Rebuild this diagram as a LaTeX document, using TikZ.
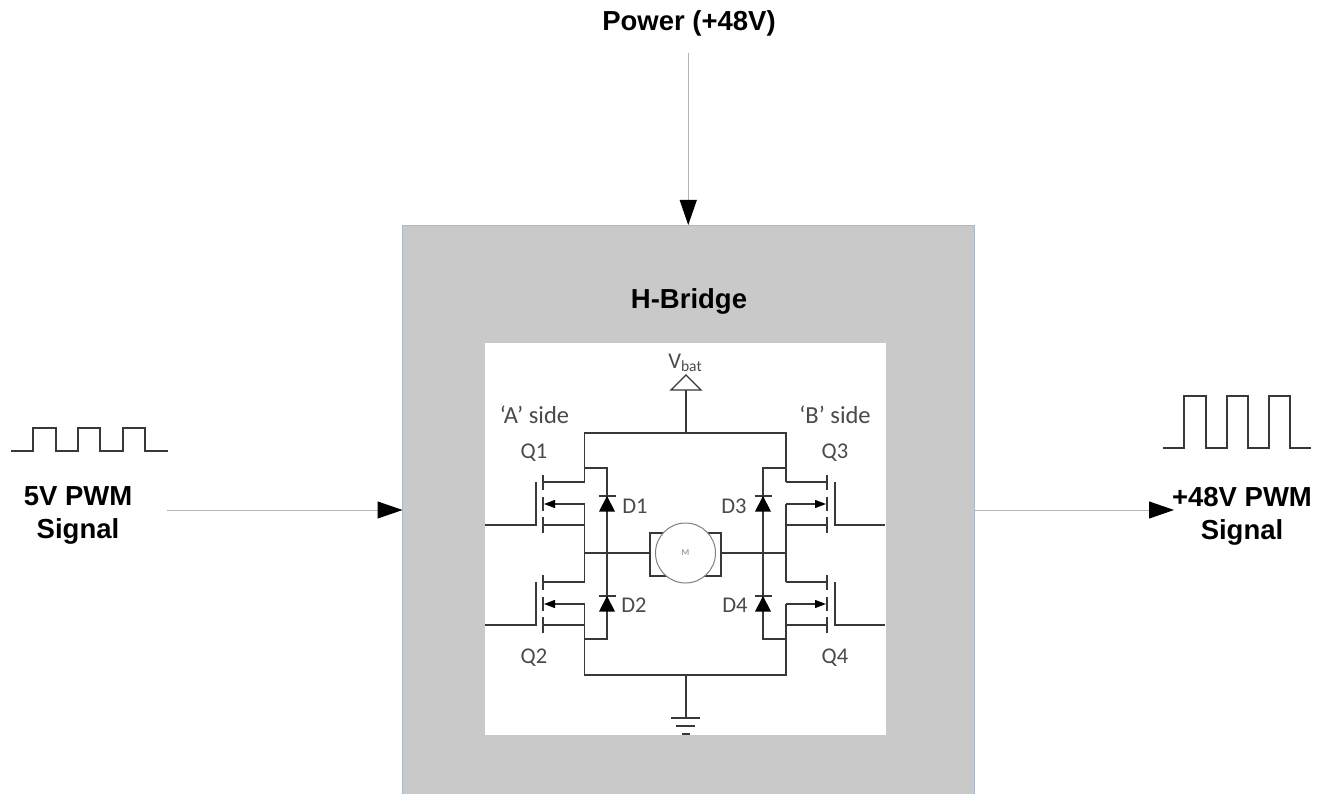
\documentclass[tikz,border=0pt]{standalone}
\usepackage{fontspec}
\setmainfont{Liberation Sans}
\newfontfamily\schemfont{Carlito}
\usetikzlibrary{arrows.meta}
\definecolor{boxgrey}{HTML}{C9C9C9}
\definecolor{boxedge}{HTML}{A9B8CC}
\definecolor{wire}{HTML}{383838}
\definecolor{schemtext}{HTML}{4A4A4A}
\definecolor{shaft}{HTML}{B5B5B5}
\tikzset{
  x=1pt,y=-1pt,
  biglabel/.style={font=\fontsize{27.5}{32.5}\selectfont\bfseries,text=black,align=center,inner sep=0pt},
  schemlabel/.style={font=\schemfont\fontsize{22.5}{26}\selectfont,text=schemtext,inner sep=0pt},
  sidelabel/.style={schemlabel,font=\schemfont\fontsize{24.5}{28}\selectfont},
  wireline/.style={draw=wire,line width=1.25pt,line join=miter},
  signal/.style={draw=wire,line width=1.1pt},
  feed/.style={draw=shaft,line width=1pt,-{Triangle[length=25pt,width=17pt,black]}},
  tip/.style={-{Triangle[length=11pt,width=8pt,black]}},
}
\begin{document}
\begin{tikzpicture}
\useasboundingbox (0,0) rectangle (1318,794);
\clip (0,0) rectangle (1318,794);
\fill[white] (0,0) rectangle (1318,794);
% main blocks
\node[draw=boxedge,line width=0.8pt,fill=boxgrey,minimum width=571.5pt,minimum height=600pt,inner sep=0pt,outer sep=0pt] (hbridge) at (688.25,525) {};
\node[fill=white,minimum width=401pt,minimum height=392pt,inner sep=0pt] (panel) at (685.5,539) {};
% big labels
\node[biglabel] (power) at (689,23.5) {Power (+48V)};
\node[biglabel] (title) at (689,301) {H-Bridge};
\node[biglabel] (inlabel) at (78,515.5) {5V PWM\\Signal};
\node[biglabel] (outlabel) at (1242,516.5) {+48V PWM\\Signal};
% feeds
\coordinate (powerin) at (688.25,53);
\coordinate (pwmin) at (167,510);
\coordinate (pwmout) at (1174,510);
\draw[feed] (powerin) -- (hbridge.north);
\draw[feed] (pwmin) -- (hbridge.west |- pwmin);
\draw[feed] (hbridge.east |- pwmout) -- (pwmout);
% waveforms
\draw[signal] (11,451) -- (33,451) -- (33,428) -- (56,428) -- (56,451) -- (78,451) -- (78,428) -- (100,428) -- (100,451) -- (123,451) -- (123,428) -- (145,428) -- (145,451) -- (168,451);
\draw[signal] (1163,448) -- (1184,448) -- (1184,396) -- (1206,396) -- (1206,448) -- (1227,448) -- (1227,396) -- (1248,396) -- (1248,448) -- (1269,448) -- (1269,396) -- (1290,396) -- (1290,448) -- (1311,448);
% rails
\draw[wireline] (671,390) -- (686,375) -- (701,390) -- cycle;
\draw[wireline] (686,390) -- (686,433);
\draw[wireline] (584.5,482) -- (584.5,433) -- (786,433) -- (786,482);
\draw[wireline] (584.5,504) -- (584.5,582);
\draw[wireline] (584.5,604) -- (584.5,675) -- (786,675) -- (786,604);
\draw[wireline] (786,504) -- (786,582);
% ground
\draw[wireline] (686,675) -- (686,718);
\draw[wireline] (671,718) -- (700,718);
\draw[wireline] (676,726) -- (695,726);
\draw[wireline] (682,734) -- (690,734);
% MOSFETs
\foreach \yy in {0,100}{
  \begin{scope}[yshift=-\yy pt]
    \draw[wireline] (485,525) -- (536,525) -- (536,482);
    \draw[wireline] (543,475) -- (543,490);
    \draw[wireline] (543,497) -- (543,511);
    \draw[wireline] (543,517) -- (543,533);
    \draw[wireline] (543,482) -- (584.5,482);
    \draw[wireline] (543,525) -- (584.5,525);
    \draw[wireline,tip] (584.5,504) -- (544,504);
    \draw[wireline] (885,525) -- (835,525) -- (835,482);
    \draw[wireline] (827,475) -- (827,490);
    \draw[wireline] (827,497) -- (827,511);
    \draw[wireline] (827,517) -- (827,533);
    \draw[wireline] (827,482) -- (786,482);
    \draw[wireline] (827,525) -- (786,525);
    \draw[wireline,tip] (786,504) -- (826,504);
  \end{scope}
}
% diode loops
\draw[wireline] (584.5,468) -- (607,468) -- (607,639) -- (584.5,639);
\draw[wireline] (786,468) -- (763,468) -- (763,639) -- (786,639);
\foreach \xx in {607,763}{
  \foreach \yy in {496,596}{
    \draw[wireline] (\xx-8.5,\yy) -- (\xx+8.5,\yy);
    \fill[black] (\xx,\yy) -- (\xx+8,\yy+15.5) -- (\xx-8,\yy+15.5) -- cycle;
  }
}
% motor
\draw[wireline] (584.5,553) -- (650,553);
\draw[wireline] (721,553) -- (786,553);
\draw[wireline,line width=1.1pt] (650,533) rectangle (721,576);
\node[circle,draw=gray,line width=1pt,fill=white,minimum size=60pt,inner sep=0pt] (motor) at (685.5,553) {};
\node[font=\schemfont\fontsize{9}{10}\selectfont,text=gray,inner sep=0pt] (mlabel) at (motor.center) {M};
% schematic labels
\node[schemlabel] (vbat) at (685,363) {V\raisebox{-0.25ex}{\fontsize{15.5}{17}\selectfont bat}};
\node[sidelabel] (aside) at (534.5,415) {‘A’ side};
\node[sidelabel] (bside) at (835,415) {‘B’ side};
\node[schemlabel] (q1) at (534,453) {Q1};
\node[schemlabel] (q2) at (534,658) {Q2};
\node[schemlabel] (q3) at (835,453) {Q3};
\node[schemlabel] (q4) at (835,658) {Q4};
\node[schemlabel] (d1) at (635,506) {D1};
\node[schemlabel] (d2) at (634,605.5) {D2};
\node[schemlabel] (d3) at (734,506) {D3};
\node[schemlabel] (d4) at (735,605.5) {D4};
\end{tikzpicture}
\end{document}
